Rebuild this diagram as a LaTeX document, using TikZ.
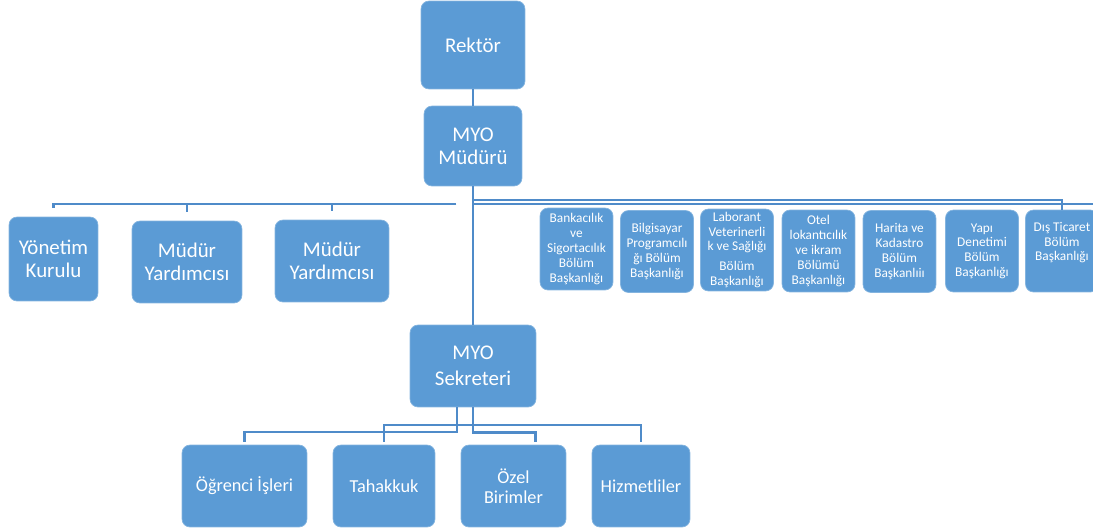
\documentclass[tikz,border=0pt]{standalone}
\usepackage{fontspec}
\setmainfont{Carlito}
\definecolor{boxblue}{HTML}{5B9BD5}
\definecolor{lineblue}{HTML}{4F8BC9}
\begin{document}
\begin{tikzpicture}[x=0.02cm,y=-0.02cm,
    unit/.style={fill=boxblue,draw=boxblue!75!white,line width=0.4pt,rounded corners=0.16cm,
      text=white,align=center,inner sep=0pt,minimum height=1.64cm},
    big/.style={unit,font=\fontsize{11.9}{13.3}\selectfont},
    dept/.style={unit,minimum width=1.46cm,font=\fontsize{7.6}{8.4}\selectfont},
    office/.style={unit,font=\fontsize{10.4}{11.4}\selectfont},
    link/.style={draw=lineblue,line width=1.6pt}]
  \useasboundingbox (0,0) rectangle (1093,531);
  \clip (0,0) rectangle (1093,531);
  % top
  \node[big,minimum width=2.08cm,minimum height=1.76cm] (rektor) at (473,45) {Rektör};
  \node[big,minimum width=1.96cm,minimum height=1.6cm] (mudur) at (473,146) {MYO\\Müdürü};
  % left staff
  \node[big,minimum width=1.78cm,minimum height=1.68cm] (yk) at (53.5,259) {Yönetim\\Kurulu};
  \node[big,minimum width=2.2cm] (my1) at (187,262) {Müdür\\Yardımcısı};
  \node[big,minimum width=2.28cm] (my2) at (332,261) {Müdür\\Yardımcısı};
  % departments
  \node[dept] (b1) at (576.5,249) {Bankacılık\\ve\\Sigortacılık\\Bölüm\\Başkanlığı};
  \node[dept] (b2) at (657,251.5) {Bilgisayar\\Programcılı\\ğı Bölüm\\Başkanlığı};
  \node[dept] (b3) at (737,250) {Laborant\\Veterinerli\\k ve Sağlığı\\[3pt]Bölüm\\Başkanlığı};
  \node[dept] (b4) at (818.5,251) {Otel\\lokantıcılık\\ve ikram\\Bölümü\\Başkanlığı};
  \node[dept] (b5) at (899.5,251.5) {Harita ve\\Kadastro\\Bölüm\\Başkanlıiı};
  \node[dept] (b6) at (982,251) {Yapı\\Denetimi\\Bölüm\\Başkanlığı};
  \node[dept] (b7) at (1062,251) {Dış Ticaret\\Bölüm\\Başkanlığı\\\strut};
  % secretary
  \node[big,minimum width=2.52cm,font=\fontsize{11.9}{15}\selectfont] (sekreter) at (473,366) {MYO\\Sekreteri};
  \node[office,minimum width=2.5cm] (ogr) at (244.5,486) {Öğrenci İşleri};
  \node[office,minimum width=2.04cm] (tah) at (384,486) {Tahakkuk};
  \node[office,minimum width=2.1cm] (ozel) at (513.5,486) {Özel\\Birimler};
  \node[office,minimum width=1.96cm] (hiz) at (641,486) {Hizmetliler};
  % connectors
  \coordinate (lbus) at (456,204);
  \coordinate (rbus) at (473,200);
  \coordinate (redge) at (1093,204);
  \coordinate (sl) at (457,407);
  \coordinate (sbus) at (473,425);
  \draw[link] (rektor) -- (mudur);
  \draw[link] (mudur) -- (sekreter);
  \draw[link,shorten >=0.17cm] (lbus) -| (yk.north);
  \draw[link,shorten >=0.17cm] (lbus) -| (my1.north);
  \draw[link,shorten >=0.17cm] (lbus) -| (my2.north);
  \draw[link] (rbus) -| (b7.north);
  \draw[link] (rbus |- redge) -- (redge);
  \draw[link,shorten >=0.06cm] (sl) -- ++(0,25) -| (ogr.north);
  \draw[link,shorten >=0.06cm] (sekreter.south) -- ++(0,25) -| ([xshift=0.44cm]ozel.north);
  \draw[link,shorten <=0.06cm,shorten >=0.06cm] (tah.north) |- (sbus) -| (hiz.north);
\end{tikzpicture}
\end{document}
